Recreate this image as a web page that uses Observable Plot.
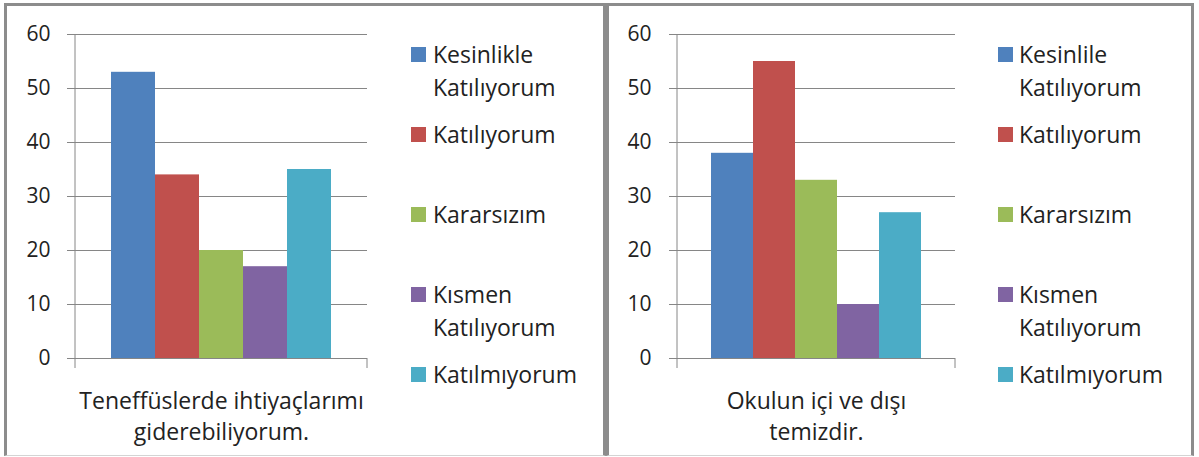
<!DOCTYPE html>
<html>
<head>
<meta charset="utf-8">
<script src="https://cdn.jsdelivr.net/npm/d3@7"></script>
<script src="https://cdn.jsdelivr.net/npm/@observablehq/plot@0.6"></script>
<style>
  body { margin: 0; background: white; }
  #root { position: relative; width: 1199px; height: 457px; background: white; overflow: hidden; font-family: "Open Sans", sans-serif; color: #222; }
  .chart { position: absolute; top: 0; }
  .panel { position: absolute; box-sizing: border-box; border-top: 3px solid #8c8c8c; border-left: 3px solid #8c8c8c; border-right: 3px solid #8c8c8c; border-bottom: 1px solid #d4d4d4; pointer-events: none; }
  .lg-swatch { position: absolute; width: 15px; height: 15px; }
  .lg-text { position: absolute; width: 168px; font-size: 23px; line-height: 33px; white-space: normal; }
</style>
</head>
<body>
<div id="root"></div>
<script>
// ---- data ----
const leftCategory = "Teneffüslerde ihtiyaçlarımı\ngiderebiliyorum.";
const rightCategory = "Okulun içi ve dışı\ntemizdir.";
const leftSeries = ["Kesinlikle Katılıyorum", "Katılıyorum", "Kararsızım", "Kısmen Katılıyorum", "Katılmıyorum"];
const rightSeries = ["Kesinlile Katılıyorum", "Katılıyorum", "Kararsızım", "Kısmen Katılıyorum", "Katılmıyorum"];
const leftValues = [53, 34, 20, 17, 35];
const rightValues = [38, 55, 33, 10, 27];
const seriesColors = ["#4F81BD", "#C0504D", "#9BBB59", "#8064A2", "#4BACC6"];
const yTicks = [0, 10, 20, 30, 40, 50, 60];

const root = document.getElementById("root");
const gridColor = "#868686";

function makeChart(series, values, category, opts) {
  const rows = series.map((s, i) => ({series: s, value: values[i]}));
  const axisLine = (index, scales, vals, dims) => {
    const {marginLeft, marginRight, marginBottom, marginTop, width, height} = dims;
    const g = d3.create("svg:g").attr("stroke", gridColor).attr("stroke-width", 1);
    const y0 = height - marginBottom;
    g.append("line").attr("x1", marginLeft).attr("x2", marginLeft).attr("y1", marginTop).attr("y2", y0 + 10);
    g.append("line").attr("x1", width - marginRight).attr("x2", width - marginRight).attr("y1", y0).attr("y2", y0 + 10);
    return g.node();
  };
  return Plot.plot({
    width: 400,
    height: 457,
    marginLeft: opts.marginLeft,
    marginRight: opts.marginRight,
    marginTop: 34,
    marginBottom: 99,
    style: {background: "transparent", fontFamily: "'Open Sans', sans-serif", fontSize: "21px", color: "#222", overflow: "visible"},
    x: {domain: series, paddingInner: 0, paddingOuter: 0.75, axis: null},
    y: {domain: [0, 60], axis: null},
    color: {domain: series, range: seriesColors},
    marks: [
      Plot.gridY(yTicks, {stroke: gridColor, strokeOpacity: 1}),
      Plot.axisY(yTicks, {tickSize: 8, tickPadding: opts.tickPadding, stroke: gridColor, fill: "#222", fontSize: 21, label: null}),
      Plot.barY(rows, {x: "series", y: "value", fill: "series"}),
      axisLine,
      Plot.text([category], {text: d => d, frameAnchor: "bottom", lineAnchor: "top", dy: 28, fontSize: 23, lineHeight: 1.35, fill: "#222"})
    ]
  });
}

function addLegend(series, swatchX, textX) {
  series.forEach((s, i) => {
    const cy = 54 + 80 * i;
    const sw = document.createElement("div");
    sw.className = "lg-swatch";
    sw.style.left = swatchX + "px";
    sw.style.top = (cy - 7.5) + "px";
    sw.style.background = seriesColors[i];
    root.appendChild(sw);
    const t = document.createElement("div");
    t.className = "lg-text";
    t.style.left = textX + "px";
    t.style.top = (cy - 16.5) + "px";
    t.textContent = s;
    root.appendChild(t);
  });
}

const left = makeChart(leftSeries, leftValues, leftCategory, {marginLeft: 75, marginRight: 33, tickPadding: 17});
left.classList.add("chart");
left.style.left = "0px";
root.appendChild(left);

const right = makeChart(rightSeries, rightValues, rightCategory, {marginLeft: 77, marginRight: 45, tickPadding: 18});
right.classList.add("chart");
right.style.left = "600px";
root.appendChild(right);

addLegend(leftSeries, 411, 433);
addLegend(rightSeries, 998, 1019);

const p1 = document.createElement("div");
p1.className = "panel";
Object.assign(p1.style, {left: "4px", top: "3px", width: "602px", height: "453px"});
root.appendChild(p1);
const p2 = document.createElement("div");
p2.className = "panel";
Object.assign(p2.style, {left: "606px", top: "3px", width: "588px", height: "453px"});
root.appendChild(p2);
</script>
</body>
</html>
